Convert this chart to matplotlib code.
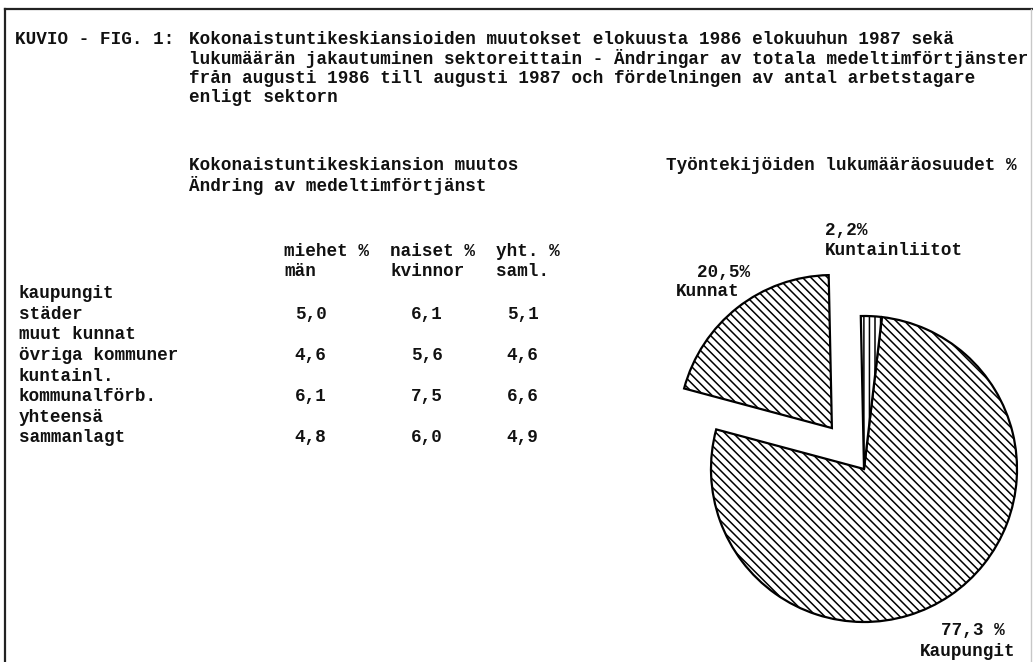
import matplotlib
matplotlib.use("Agg")
import matplotlib.pyplot as plt

W, H = 1033, 662

# ---- data ----
title_prefix = "KUVIO - FIG. 1:"
title_lines = [
    "Kokonaistuntikeskiansioiden muutokset elokuusta 1986 elokuuhun 1987 sekä",
    "lukumäärän jakautuminen sektoreittain - Ändringar av totala medeltimförtjänster",
    "från augusti 1986 till augusti 1987 och fördelningen av antal arbetstagare",
    "enligt sektorn",
]
table_heading = ["Kokonaistuntikeskiansion muutos", "Ändring av medeltimförtjänst"]
pie_heading = "Työntekijöiden lukumääräosuudet %"
col_headers = [("miehet %", "män"), ("naiset %", "kvinnor"), ("yht. %", "saml.")]
row_labels = [("kaupungit", "städer"), ("muut kunnat", "övriga kommuner"),
              ("kuntainl.", "kommunalförb."), ("yhteensä", "sammanlagt")]
men = [5.0, 4.6, 6.1, 4.8]
women = [6.1, 5.6, 7.5, 6.0]
total = [5.1, 4.6, 6.6, 4.9]

sectors = ["Kaupungit", "Kuntainliitot", "Kunnat"]
shares = [77.3, 2.2, 20.5]
share_labels = ["77,3 %", "2,2%", "20,5%"]

# ---- style ----
FONT = "Liberation Mono"
CW = 10.6                      # character pitch in px
FS = CW / (0.6 * 100 / 72)     # font size giving that pitch
X0 = 19                        # left margin of the typed text
plt.rcParams["hatch.linewidth"] = 1.1

fig = plt.figure(figsize=(W / 100, H / 100), dpi=100)
fig.patch.set_facecolor("white")


def px(x, y):
    return x / W, 1 - y / H


def col(i):
    return X0 + CW * i


def txt(x, y, s, ha="left"):
    fig.text(*px(x, y), s, fontsize=FS, family=FONT, fontweight="bold",
             ha=ha, va="center", color="#111111")


# frame lines
TOP, LEFT = 9, 5
fig.add_artist(plt.Line2D([LEFT / W, LEFT / W], [0, 1 - TOP / H], transform=fig.transFigure,
                          color="#222222", lw=1.6))
fig.add_artist(plt.Line2D([LEFT / W, 1], [1 - TOP / H, 1 - TOP / H], transform=fig.transFigure,
                          color="#222222", lw=1.6))
fig.add_artist(plt.Line2D([1031 / W, 1031 / W], [0, 1 - TOP / H], transform=fig.transFigure,
                          color="#c8c8c8", lw=1.0))

# title
LP = 19.6
txt(col(0) - 4, 39, title_prefix)
for i, line in enumerate(title_lines):
    txt(col(16), 39 + LP * i, line)

# headings
for i, line in enumerate(table_heading):
    txt(col(16), 166 + LP * i, line)
txt(col(61), 166, pie_heading)

# table
for (h1, h2), c in zip(col_headers, (25, 35, 45)):
    txt(col(c), 251, h1)
    txt(col(c), 271, h2)
row_y0, dy = 294, 20.5
for r, (a, b) in enumerate(row_labels):
    ya = row_y0 + dy * 2 * r
    yb = ya + dy
    txt(col(0), ya, a)
    txt(col(0), yb, b)
    for c, series in zip((26, 37, 46), (men, women, total)):
        txt(col(c), yb, f"{series[r]:.1f}".replace(".", ","))

# pie
cx, cy, R = 864, 469, 153
lim = 1.7
side = 2 * lim * R
ax = fig.add_axes([(cx - side / 2) / W, 1 - (cy + side / 2) / H, side / W, side / H])
wedges, _ = ax.pie(shares, startangle=165, counterclock=True,
                   explode=[0, 0, 0.34],
                   colors=["white"] * 3,
                   wedgeprops=dict(edgecolor="black", linewidth=1.6))
for w, h in zip(wedges, ["\\\\\\\\", "|||", "\\\\\\\\"]):
    w.set_hatch(h)
ax.set_xlim(-lim, lim)
ax.set_ylim(-lim, lim)
ax.set_aspect("equal")
ax.axis("off")

# pie labels
txt(col(76), 230, share_labels[1])
txt(col(76), 250, sectors[1])
txt(col(64), 272, share_labels[2])
txt(col(62), 292, sectors[2])
txt(col(87), 630, share_labels[0])
txt(col(85), 651, sectors[0])

fig.savefig("out.png", dpi=100, facecolor="white")
